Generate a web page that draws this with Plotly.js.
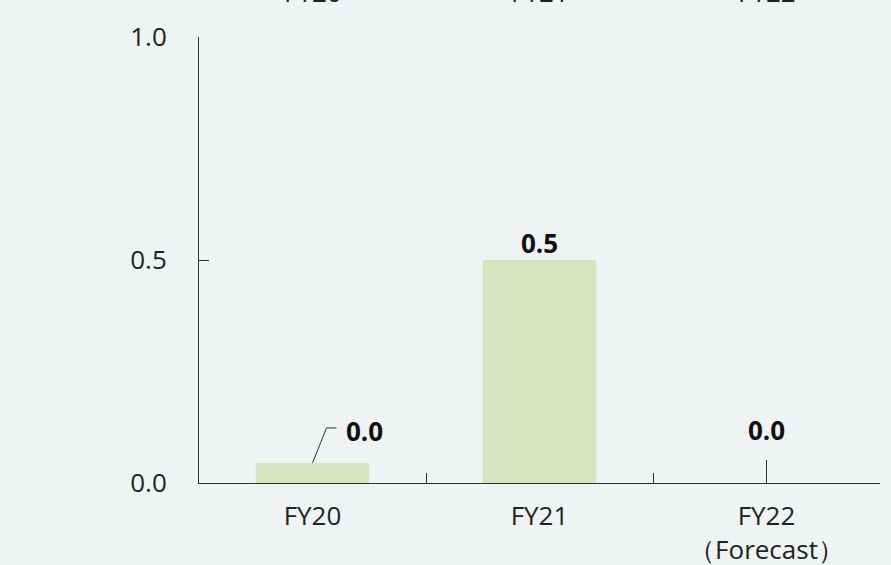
<!DOCTYPE html>
<html>
<head>
<meta charset="utf-8">
<script src="https://cdn.plot.ly/plotly-3.0.1.min.js"></script>
<style>html,body{margin:0;padding:0;background:#eff3f4;}#chart{width:891px;height:565px;}</style>
</head>
<body>
<div id="chart"></div>
<script>
const categories = ["FY20", "FY21", "FY22"];
const tickLabels = ["FY20", "FY21", "FY22<br>（Forecast）"];
const values = [0.045, 0.5, 0.0];
const yTickVals = [0, 0.5, 1.0];
const yTickText = ["0.0", "0.5", "1.0"];

const FONT = "'Open Sans', 'Noto Sans', sans-serif";
const barColor = "#d9e4bf";
const lineColor = "#333333";
const FS = 26;

const trace = {
  type: "bar",
  x: categories,
  y: values,
  width: 0.5,
  marker: {color: barColor, line: {width: 0}},
  hoverinfo: "skip"
};

const annotations = [];
const shapes = [];
categories.forEach((c, i) => {
  const v = values[i];
  const txt = v.toFixed(1);
  if (v <= 0) {
    shapes.push({type: "path", xref: "x", yref: "y", xsizemode: "pixel", ysizemode: "pixel",
      xanchor: i, yanchor: v, path: "M0,0 L0,23", line: {color: lineColor, width: 1}});
    annotations.push({x: c, y: v, xref: "x", yref: "y", text: "<b>" + txt + "</b>", showarrow: false,
      yanchor: "bottom", yshift: 33, font: {family: FONT, size: FS, color: "#111"}});
  } else if (v < 0.1) {
    shapes.push({type: "path", xref: "x", yref: "y", xsizemode: "pixel", ysizemode: "pixel",
      xanchor: i, yanchor: v, path: "M0,0 L14,35 L24,35", line: {color: lineColor, width: 1}});
    annotations.push({x: c, y: v, xref: "x", yref: "y", text: "<b>" + txt + "</b>", showarrow: false,
      xanchor: "left", yanchor: "middle", xshift: 31, yshift: 32, font: {family: FONT, size: FS, color: "#111"}});
  } else {
    annotations.push({x: c, y: v, xref: "x", yref: "y", text: "<b>" + txt + "</b>", showarrow: false,
      yanchor: "bottom", yshift: -3, font: {family: FONT, size: FS, color: "#111"}});
  }
  annotations.push({x: c, y: 1, xref: "x", yref: "paper", text: c, showarrow: false,
    yanchor: "bottom", yshift: 25, font: {family: FONT, size: FS, color: "#222"}});
});

const layout = {
  width: 891, height: 565,
  paper_bgcolor: "#eff3f4", plot_bgcolor: "#eff3f4",
  margin: {l: 199, r: 11, t: 37, b: 82},
  showlegend: false,
  font: {family: FONT, size: FS, color: "#222"},
  xaxis: {
    type: "category",
    tickvals: categories, ticktext: tickLabels,
    range: [-0.5, 2.5],
    tickson: "boundaries",
    ticks: "inside", ticklen: 10, tickcolor: lineColor, tickwidth: 1,
    showline: true, linecolor: lineColor, linewidth: 1,
    showgrid: false, zeroline: false,
    ticklabelstandoff: 10,
    tickfont: {family: FONT, size: FS, color: "#222"},
    fixedrange: true
  },
  yaxis: {
    range: [0, 1],
    tickvals: yTickVals, ticktext: yTickText,
    ticks: "inside", ticklen: 10, tickcolor: lineColor, tickwidth: 1,
    showline: true, linecolor: lineColor, linewidth: 1,
    showgrid: false, zeroline: false,
    ticklabelstandoff: 26,
    tickfont: {family: FONT, size: FS, color: "#222"},
    fixedrange: true
  },
  annotations: annotations,
  shapes: shapes
};

Plotly.newPlot("chart", [trace], layout, {displayModeBar: false, staticPlot: true});
</script>
</body>
</html>
